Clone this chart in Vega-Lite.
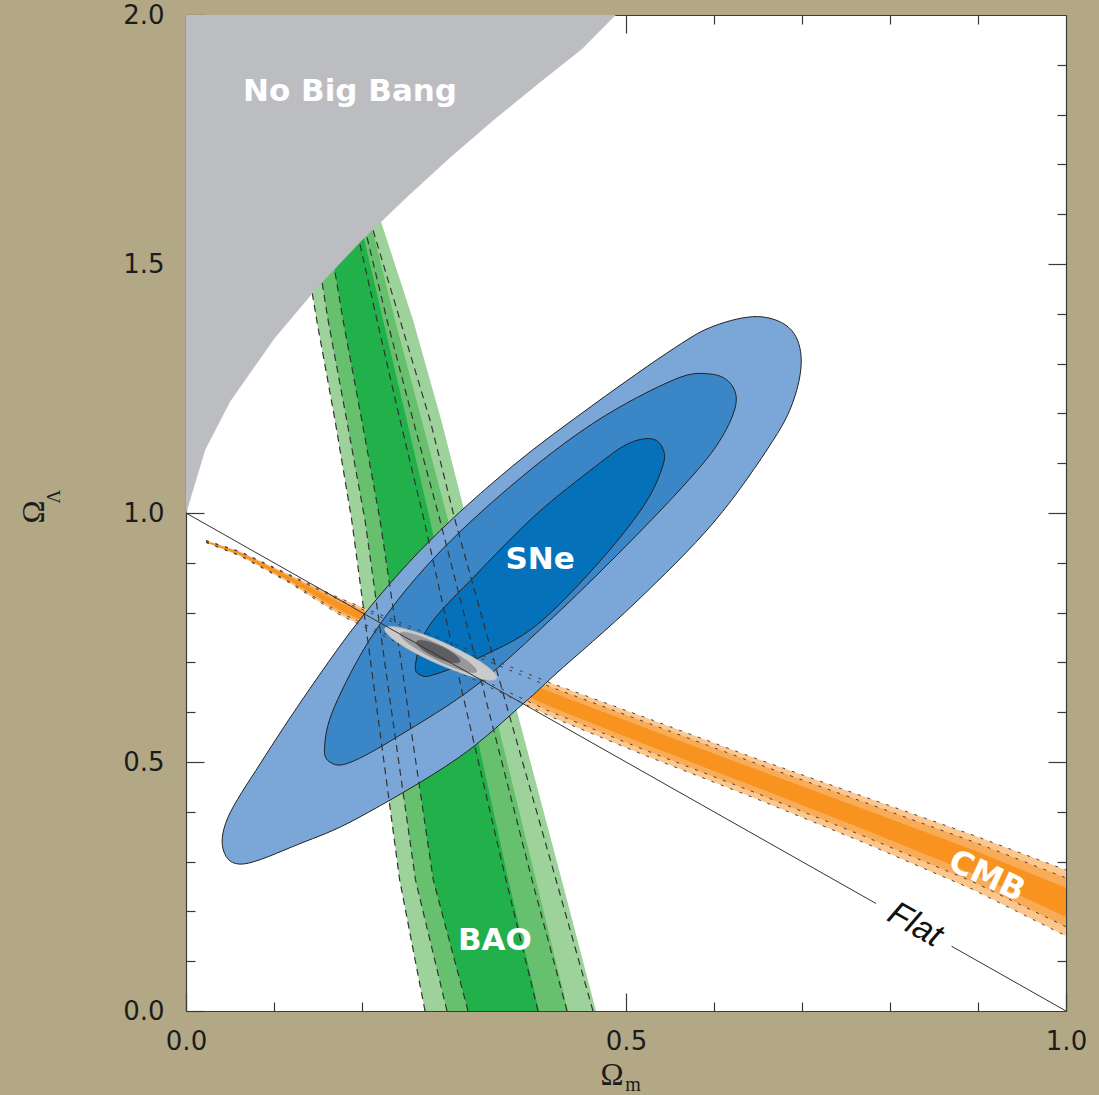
{
  "$schema": "https://vega.github.io/schema/vega-lite/v6.json",
  "width": 880,
  "height": 996,
  "autosize": {"type": "none"},
  "padding": {"left": 186, "top": 15, "right": 33, "bottom": 84},
  "background": "#b3a886",
  "config": {
    "view": {"fill": "white", "stroke": null},
    "axis": {
      "domainColor": "#3a3a3a",
      "domainWidth": 1.2,
      "tickColor": "#3a3a3a",
      "tickWidth": 1.2,
      "labelFont": "DejaVu Sans",
      "labelFontSize": 26,
      "labelColor": "#1c1c1c",
      "grid": false,
      "labelFlush": false,
      "labelOverlap": false,
      "zindex": 1
    }
  },
  "resolve": {"axis": {"x": "independent", "y": "independent"}},
  "datasets": {
    "bao": [
      {"ol": 1.6285, "l1": 0.1261, "l2": 0.1398, "l3": 0.1557, "r3": 0.1920, "r2": 0.2034, "r1": 0.2136, "d3": 0.1864, "d2": 0.1955, "d1": 0.2023},
      {"ol": 1.3876, "l1": 0.1485, "l2": 0.1614, "l3": 0.1784, "r3": 0.2239, "r2": 0.2375, "r1": 0.2580, "d3": 0.2170, "d2": 0.2284, "d1": 0.2432},
      {"ol": 1.1867, "l1": 0.1693, "l2": 0.1826, "l3": 0.1997, "r3": 0.2508, "r2": 0.2678, "r1": 0.2900, "d3": 0.2432, "d2": 0.2580, "d1": 0.2773},
      {"ol": 0.9859, "l1": 0.1883, "l2": 0.2034, "l3": 0.2205, "r3": 0.2773, "r2": 0.2977, "r1": 0.3190, "d3": 0.2705, "d2": 0.2886, "d1": 0.3057},
      {"ol": 0.6245, "l1": 0.2156, "l2": 0.2318, "l3": 0.2508, "r3": 0.3216, "r2": 0.3477, "r1": 0.3727, "d3": 0.3159, "d2": 0.3409, "d1": 0.3625},
      {"ol": 0.2631, "l1": 0.2428, "l2": 0.2608, "l3": 0.2810, "r3": 0.3664, "r2": 0.3977, "r1": 0.4270, "d3": 0.3636, "d2": 0.3932, "d1": 0.4205},
      {"ol": 0.0, "l1": 0.2716, "l2": 0.2966, "l3": 0.3205, "r3": 0.4011, "r2": 0.4341, "r1": 0.4659, "d3": 0.4000, "d2": 0.4330, "d1": 0.4625}
    ],
    "cmb": [
      {"om": 0.0227, "e0": 0.9448, "e1": 0.9443, "e2": 0.9437, "e3": 0.9419, "e4": 0.9413, "e5": 0.9408},
      {"om": 0.0614, "e0": 0.9228, "e1": 0.9217, "e2": 0.9203, "e3": 0.9164, "e4": 0.9150, "e5": 0.9138},
      {"om": 0.1182, "e0": 0.8758, "e1": 0.8738, "e2": 0.8713, "e3": 0.8640, "e4": 0.8615, "e5": 0.8591},
      {"om": 0.1750, "e0": 0.8286, "e1": 0.8246, "e2": 0.8196, "e3": 0.8048, "e4": 0.7998, "e5": 0.7951},
      {"om": 0.3000, "e0": 0.7400, "e1": 0.7338, "e2": 0.7261, "e3": 0.7034, "e4": 0.6957, "e5": 0.6886},
      {"om": 0.4136, "e0": 0.6592, "e1": 0.6511, "e2": 0.6410, "e3": 0.6113, "e4": 0.6012, "e5": 0.5918},
      {"om": 0.5216, "e0": 0.5896, "e1": 0.5804, "e2": 0.5690, "e3": 0.5354, "e4": 0.5239, "e5": 0.5133},
      {"om": 0.6460, "e0": 0.5080, "e1": 0.4984, "e2": 0.4863, "e3": 0.4510, "e4": 0.4390, "e5": 0.4277},
      {"om": 0.7700, "e0": 0.4307, "e1": 0.4196, "e2": 0.4058, "e3": 0.3651, "e4": 0.3513, "e5": 0.3384},
      {"om": 0.8940, "e0": 0.3534, "e1": 0.3403, "e2": 0.3239, "e3": 0.2759, "e4": 0.2595, "e5": 0.2442},
      {"om": 1.0, "e0": 0.2831, "e1": 0.2672, "e2": 0.2473, "e3": 0.1890, "e4": 0.1692, "e5": 0.1506}
    ],
    "sne": [
      {"g": "outer", "i": 1, "om": 0.6494, "ol": 1.3944},
      {"g": "outer", "i": 2, "om": 0.6852, "ol": 1.3721},
      {"g": "outer", "i": 3, "om": 0.6989, "ol": 1.3163},
      {"g": "outer", "i": 4, "om": 0.6920, "ol": 1.2349},
      {"g": "outer", "i": 5, "om": 0.6670, "ol": 1.1454},
      {"g": "outer", "i": 6, "om": 0.6000, "ol": 0.9819},
      {"g": "outer", "i": 7, "om": 0.5102, "ol": 0.8193},
      {"g": "outer", "i": 8, "om": 0.4205, "ol": 0.6773},
      {"g": "outer", "i": 9, "om": 0.3841, "ol": 0.6185},
      {"g": "outer", "i": 10, "om": 0.3080, "ol": 0.5066},
      {"g": "outer", "i": 11, "om": 0.1955, "ol": 0.3876},
      {"g": "outer", "i": 12, "om": 0.1284, "ol": 0.3353},
      {"g": "outer", "i": 13, "om": 0.0653, "ol": 0.2952},
      {"g": "outer", "i": 14, "om": 0.0428, "ol": 0.3213},
      {"g": "outer", "i": 15, "om": 0.0474, "ol": 0.3876},
      {"g": "outer", "i": 16, "om": 0.0852, "ol": 0.4990},
      {"g": "outer", "i": 17, "om": 0.1409, "ol": 0.6476},
      {"g": "outer", "i": 18, "om": 0.2023, "ol": 0.7962},
      {"g": "outer", "i": 19, "om": 0.2773, "ol": 0.9448},
      {"g": "outer", "i": 20, "om": 0.3705, "ol": 1.0934},
      {"g": "outer", "i": 21, "om": 0.4648, "ol": 1.2197},
      {"g": "outer", "i": 22, "om": 0.5551, "ol": 1.3313},
      {"g": "outer", "i": 23, "om": 0.6000, "ol": 1.3755},
      {"g": "middle", "i": 1, "om": 0.5955, "ol": 1.2791},
      {"g": "middle", "i": 2, "om": 0.6182, "ol": 1.2610},
      {"g": "middle", "i": 3, "om": 0.6250, "ol": 1.2197},
      {"g": "middle", "i": 4, "om": 0.6091, "ol": 1.1526},
      {"g": "middle", "i": 5, "om": 0.5773, "ol": 1.0783},
      {"g": "middle", "i": 6, "om": 0.5102, "ol": 0.9522},
      {"g": "middle", "i": 7, "om": 0.4205, "ol": 0.7962},
      {"g": "middle", "i": 8, "om": 0.3307, "ol": 0.6550},
      {"g": "middle", "i": 9, "om": 0.2406, "ol": 0.5510},
      {"g": "middle", "i": 10, "om": 0.1864, "ol": 0.4990},
      {"g": "middle", "i": 11, "om": 0.1642, "ol": 0.4990},
      {"g": "middle", "i": 12, "om": 0.1574, "ol": 0.5289},
      {"g": "middle", "i": 13, "om": 0.1686, "ol": 0.6104},
      {"g": "middle", "i": 14, "om": 0.2136, "ol": 0.7590},
      {"g": "middle", "i": 15, "om": 0.2807, "ol": 0.9076},
      {"g": "middle", "i": 16, "om": 0.3705, "ol": 1.0562},
      {"g": "middle", "i": 17, "om": 0.4648, "ol": 1.1827},
      {"g": "middle", "i": 18, "om": 0.5551, "ol": 1.2681},
      {"g": "inner", "i": 1, "om": 0.5282, "ol": 1.1492},
      {"g": "inner", "i": 2, "om": 0.5416, "ol": 1.1305},
      {"g": "inner", "i": 3, "om": 0.5416, "ol": 1.0934},
      {"g": "inner", "i": 4, "om": 0.5192, "ol": 1.0120},
      {"g": "inner", "i": 5, "om": 0.4652, "ol": 0.8928},
      {"g": "inner", "i": 6, "om": 0.3977, "ol": 0.7739},
      {"g": "inner", "i": 7, "om": 0.3394, "ol": 0.7149},
      {"g": "inner", "i": 8, "om": 0.2852, "ol": 0.6773},
      {"g": "inner", "i": 9, "om": 0.2675, "ol": 0.6737},
      {"g": "inner", "i": 10, "om": 0.2608, "ol": 0.6960},
      {"g": "inner", "i": 11, "om": 0.2765, "ol": 0.7739},
      {"g": "inner", "i": 12, "om": 0.3305, "ol": 0.8779},
      {"g": "inner", "i": 13, "om": 0.3977, "ol": 0.9968},
      {"g": "inner", "i": 14, "om": 0.4652, "ol": 1.0934},
      {"g": "inner", "i": 15, "om": 0.5011, "ol": 1.1380}
    ],
    "joint": [
      {"g": "c3", "i": 1, "om": 0.35318, "ol": 0.66807},
      {"g": "c3", "i": 2, "om": 0.34211, "ol": 0.66472},
      {"g": "c3", "i": 3, "om": 0.31695, "ol": 0.67570},
      {"g": "c3", "i": 4, "om": 0.28444, "ol": 0.69809},
      {"g": "c3", "i": 5, "om": 0.25332, "ol": 0.72590},
      {"g": "c3", "i": 6, "om": 0.23189, "ol": 0.75167},
      {"g": "c3", "i": 7, "om": 0.22591, "ol": 0.76847},
      {"g": "c3", "i": 8, "om": 0.23698, "ol": 0.77183},
      {"g": "c3", "i": 9, "om": 0.26215, "ol": 0.76084},
      {"g": "c3", "i": 10, "om": 0.29465, "ol": 0.73845},
      {"g": "c3", "i": 11, "om": 0.32578, "ol": 0.71064},
      {"g": "c3", "i": 12, "om": 0.34720, "ol": 0.68488},
      {"g": "c2", "i": 1, "om": 0.33028, "ol": 0.68133},
      {"g": "c2", "i": 2, "om": 0.32253, "ol": 0.67976},
      {"g": "c2", "i": 3, "om": 0.30519, "ol": 0.68894},
      {"g": "c2", "i": 4, "om": 0.28289, "ol": 0.70640},
      {"g": "c2", "i": 5, "om": 0.26161, "ol": 0.72749},
      {"g": "c2", "i": 6, "om": 0.24706, "ol": 0.74655},
      {"g": "c2", "i": 7, "om": 0.24313, "ol": 0.75843},
      {"g": "c2", "i": 8, "om": 0.25088, "ol": 0.76000},
      {"g": "c2", "i": 9, "om": 0.26822, "ol": 0.75082},
      {"g": "c2", "i": 10, "om": 0.29052, "ol": 0.73333},
      {"g": "c2", "i": 11, "om": 0.31180, "ol": 0.71227},
      {"g": "c2", "i": 12, "om": 0.32635, "ol": 0.69321},
      {"g": "c1", "i": 1, "om": 0.31131, "ol": 0.70141},
      {"g": "c1", "i": 2, "om": 0.30658, "ol": 0.69863},
      {"g": "c1", "i": 3, "om": 0.29653, "ol": 0.70197},
      {"g": "c1", "i": 4, "om": 0.28384, "ol": 0.71054},
      {"g": "c1", "i": 5, "om": 0.27193, "ol": 0.72205},
      {"g": "c1", "i": 6, "om": 0.26397, "ol": 0.73341},
      {"g": "c1", "i": 7, "om": 0.26210, "ol": 0.74157},
      {"g": "c1", "i": 8, "om": 0.26683, "ol": 0.74434},
      {"g": "c1", "i": 9, "om": 0.27688, "ol": 0.74100},
      {"g": "c1", "i": 10, "om": 0.28957, "ol": 0.73243},
      {"g": "c1", "i": 11, "om": 0.30148, "ol": 0.72092},
      {"g": "c1", "i": 12, "om": 0.30944, "ol": 0.70956}
    ],
    "nobigbang": [
      {"i": 0, "om": 0.0, "ol": 2.0},
      {"i": 1, "om": 0.0, "ol": 1.0},
      {"i": 2, "om": 0.0216, "ol": 1.127},
      {"i": 3, "om": 0.05, "ol": 1.224},
      {"i": 4, "om": 0.1, "ol": 1.350},
      {"i": 5, "om": 0.15, "ol": 1.455},
      {"i": 6, "om": 0.2, "ol": 1.548},
      {"i": 7, "om": 0.25, "ol": 1.633},
      {"i": 8, "om": 0.3, "ol": 1.714},
      {"i": 9, "om": 0.35, "ol": 1.790},
      {"i": 10, "om": 0.4, "ol": 1.862},
      {"i": 11, "om": 0.45, "ol": 1.932},
      {"i": 12, "om": 0.488, "ol": 2.0}
    ],
    "flat": [
      {"om": 0.0, "ol": 1.0, "om2": 0.784, "ol2": 0.216},
      {"om": 0.870, "ol": 0.130, "om2": 1.0, "ol2": 0.0}
    ],
    "notes": [
      {"kind": "region", "t": "No Big Bang", "om": 0.1864, "ol": 1.8454},
      {"kind": "region", "t": "SNe", "om": 0.4023, "ol": 0.9056},
      {"kind": "region", "t": "BAO", "om": 0.3511, "ol": 0.1406},
      {"kind": "cmb", "t": "CMB", "om": 0.9102, "ol": 0.2711},
      {"kind": "flat", "t": "Flat", "om": 0.8284, "ol": 0.1727},
      {"kind": "xsym", "t": "Ω", "om": 0.4841, "ol": -0.1305},
      {"kind": "xsub", "t": "m", "om": 0.5080, "ol": -0.1486},
      {"kind": "ysym", "t": "Ω", "om": -0.1716, "ol": 1.002},
      {"kind": "ysub", "t": "Λ", "om": -0.150, "ol": 1.033}
    ]
  },
  "layer": [
    {
      "data": {"name": "bao"},
      "mark": {"type": "area", "orient": "horizontal", "fill": "#9dd39a", "clip": true},
      "encoding": {
        "y": {"field": "ol", "type": "quantitative",
              "scale": {"domain": [0, 2], "nice": false, "zero": false},
              "axis": {"orient": "left", "values": [0, 0.5, 1, 1.5, 2], "format": ".1f", "tickSize": -18, "labelPadding": 40, "title": null}},
        "x": {"field": "l1", "type": "quantitative",
              "scale": {"domain": [0, 1], "nice": false, "zero": false},
              "axis": {"orient": "bottom", "values": [0, 0.5, 1], "format": ".1f", "tickSize": -18, "labelPadding": 35, "title": null}},
        "x2": {"field": "r1"}
      }
    },
    {
      "data": {"name": "bao"},
      "mark": {"type": "area", "orient": "horizontal", "fill": "#66c06d", "clip": true},
      "encoding": {
        "y": {"field": "ol", "type": "quantitative",
              "axis": {"orient": "left", "values": [0.1, 0.2, 0.3, 0.4, 0.6, 0.7, 0.8, 0.9, 1.1, 1.2, 1.3, 1.4, 1.6, 1.7, 1.8, 1.9], "tickSize": -9, "labels": false, "domain": false, "title": null}},
        "x": {"field": "l2", "type": "quantitative",
              "axis": {"orient": "bottom", "values": [0.1, 0.2, 0.3, 0.4, 0.6, 0.7, 0.8, 0.9], "tickSize": -9, "labels": false, "domain": false, "title": null}},
        "x2": {"field": "r2"}
      }
    },
    {
      "data": {"name": "bao"},
      "mark": {"type": "area", "orient": "horizontal", "fill": "#22b04b", "clip": true},
      "encoding": {
        "y": {"field": "ol", "type": "quantitative",
              "axis": {"orient": "right", "values": [0.5, 1, 1.5], "tickSize": -18, "labels": false, "title": null}},
        "x": {"field": "l3", "type": "quantitative",
              "axis": {"orient": "top", "values": [0.5], "tickSize": -18, "labels": false, "title": null}},
        "x2": {"field": "r3"}
      }
    },
    {
      "data": {"name": "cmb"},
      "mark": {"type": "area", "fill": "#fdc68c", "clip": true},
      "encoding": {
        "x": {"field": "om", "type": "quantitative",
              "axis": {"orient": "top", "values": [0.1, 0.2, 0.3, 0.4, 0.6, 0.7, 0.8, 0.9], "tickSize": -9, "labels": false, "domain": false, "title": null}},
        "y": {"field": "e0", "type": "quantitative",
              "axis": {"orient": "right", "values": [0.1, 0.2, 0.3, 0.4, 0.6, 0.7, 0.8, 0.9, 1.1, 1.2, 1.3, 1.4, 1.6, 1.7, 1.8, 1.9], "tickSize": -9, "labels": false, "domain": false, "title": null}},
        "y2": {"field": "e5"}
      }
    },
    {
      "data": {"name": "cmb"},
      "mark": {"type": "area", "fill": "#f9ac58", "clip": true},
      "encoding": {
        "x": {"field": "om", "type": "quantitative", "axis": null},
        "y": {"field": "e1", "type": "quantitative", "axis": null},
        "y2": {"field": "e4"}
      }
    },
    {
      "data": {"name": "cmb"},
      "mark": {"type": "area", "fill": "#f7931e", "clip": true},
      "encoding": {
        "x": {"field": "om", "type": "quantitative", "axis": null},
        "y": {"field": "e2", "type": "quantitative", "axis": null},
        "y2": {"field": "e3"}
      }
    },
    {
      "data": {"name": "sne"},
      "transform": [{"filter": {"field": "g", "equal": "outer"}}],
      "mark": {"type": "line", "fill": "#7ba6d8", "stroke": "#222222", "strokeWidth": 1, "interpolate": "cardinal-closed", "clip": true},
      "encoding": {
        "x": {"field": "om", "type": "quantitative", "axis": null},
        "y": {"field": "ol", "type": "quantitative", "axis": null},
        "order": {"field": "i", "type": "quantitative"}
      }
    },
    {
      "data": {"name": "sne"},
      "transform": [{"filter": {"field": "g", "equal": "middle"}}],
      "mark": {"type": "line", "fill": "#3b86c7", "stroke": "#222222", "strokeWidth": 1, "interpolate": "cardinal-closed", "clip": true},
      "encoding": {
        "x": {"field": "om", "type": "quantitative", "axis": null},
        "y": {"field": "ol", "type": "quantitative", "axis": null},
        "order": {"field": "i", "type": "quantitative"}
      }
    },
    {
      "data": {"name": "sne"},
      "transform": [{"filter": {"field": "g", "equal": "inner"}}],
      "mark": {"type": "line", "fill": "#0571ba", "stroke": "#222222", "strokeWidth": 1, "interpolate": "cardinal-closed", "clip": true},
      "encoding": {
        "x": {"field": "om", "type": "quantitative", "axis": null},
        "y": {"field": "ol", "type": "quantitative", "axis": null},
        "order": {"field": "i", "type": "quantitative"}
      }
    },
    {
      "data": {"name": "bao"},
      "transform": [{"fold": ["l1", "l2", "l3", "d3", "d2", "d1"], "as": ["edge", "om"]}],
      "mark": {"type": "line", "stroke": "#333333", "strokeWidth": 1.2, "strokeDash": [7, 5], "clip": true},
      "encoding": {
        "x": {"field": "om", "type": "quantitative", "axis": null},
        "y": {"field": "ol", "type": "quantitative", "axis": null},
        "detail": {"field": "edge"},
        "order": {"field": "ol", "type": "quantitative"}
      }
    },
    {
      "data": {"name": "cmb"},
      "transform": [{"fold": ["e0", "e1", "e4", "e5"], "as": ["edge", "ol"]}],
      "mark": {"type": "line", "stroke": "#333333", "strokeWidth": 0.9, "strokeDash": [3, 7], "clip": true},
      "encoding": {
        "x": {"field": "om", "type": "quantitative", "axis": null},
        "y": {"field": "ol", "type": "quantitative", "axis": null},
        "detail": {"field": "edge"}
      }
    },
    {
      "data": {"name": "nobigbang"},
      "mark": {"type": "line", "fill": "#bcbdc1", "stroke": "#bcbdc1", "strokeWidth": 0.5, "interpolate": "linear-closed", "clip": true},
      "encoding": {
        "x": {"field": "om", "type": "quantitative", "axis": null},
        "y": {"field": "ol", "type": "quantitative", "axis": null},
        "order": {"field": "i", "type": "quantitative"}
      }
    },
    {
      "data": {"name": "joint"},
      "transform": [{"filter": {"field": "g", "equal": "c3"}}],
      "mark": {"type": "line", "fill": "#cacacb", "stroke": "#bdbdbe", "strokeWidth": 0.5, "interpolate": "cardinal-closed"},
      "encoding": {
        "x": {"field": "om", "type": "quantitative", "axis": null},
        "y": {"field": "ol", "type": "quantitative", "axis": null},
        "order": {"field": "i", "type": "quantitative"}
      }
    },
    {
      "data": {"name": "joint"},
      "transform": [{"filter": {"field": "g", "equal": "c2"}}],
      "mark": {"type": "line", "fill": "#98989a", "stroke": "#98989a", "strokeWidth": 0.5, "interpolate": "cardinal-closed"},
      "encoding": {
        "x": {"field": "om", "type": "quantitative", "axis": null},
        "y": {"field": "ol", "type": "quantitative", "axis": null},
        "order": {"field": "i", "type": "quantitative"}
      }
    },
    {
      "data": {"name": "joint"},
      "transform": [{"filter": {"field": "g", "equal": "c1"}}],
      "mark": {"type": "line", "fill": "#5e5e60", "stroke": "#5e5e60", "strokeWidth": 0.5, "interpolate": "cardinal-closed"},
      "encoding": {
        "x": {"field": "om", "type": "quantitative", "axis": null},
        "y": {"field": "ol", "type": "quantitative", "axis": null},
        "order": {"field": "i", "type": "quantitative"}
      }
    },
    {
      "data": {"name": "flat"},
      "mark": {"type": "rule", "color": "#333333", "strokeWidth": 1},
      "encoding": {
        "x": {"field": "om", "type": "quantitative", "axis": null},
        "y": {"field": "ol", "type": "quantitative", "axis": null},
        "x2": {"field": "om2"},
        "y2": {"field": "ol2"}
      }
    },
    {
      "data": {"name": "notes"},
      "transform": [{"filter": {"field": "kind", "equal": "region"}}],
      "mark": {"type": "text", "font": "DejaVu Sans", "fontWeight": "bold", "fontSize": 31, "color": "white", "align": "center", "baseline": "middle"},
      "encoding": {
        "x": {"field": "om", "type": "quantitative", "axis": null},
        "y": {"field": "ol", "type": "quantitative", "axis": null},
        "text": {"field": "t"}
      }
    },
    {
      "data": {"name": "notes"},
      "transform": [{"filter": {"field": "kind", "equal": "cmb"}}],
      "mark": {"type": "text", "font": "DejaVu Sans", "fontWeight": "bold", "fontSize": 32, "color": "white", "align": "center", "baseline": "middle", "angle": 25},
      "encoding": {
        "x": {"field": "om", "type": "quantitative", "axis": null},
        "y": {"field": "ol", "type": "quantitative", "axis": null},
        "text": {"field": "t"}
      }
    },
    {
      "data": {"name": "notes"},
      "transform": [{"filter": {"field": "kind", "equal": "flat"}}],
      "mark": {"type": "text", "font": "Liberation Sans", "fontStyle": "italic", "fontSize": 34, "color": "#111111", "align": "center", "baseline": "middle", "angle": 29.5},
      "encoding": {
        "x": {"field": "om", "type": "quantitative", "axis": null},
        "y": {"field": "ol", "type": "quantitative", "axis": null},
        "text": {"field": "t"}
      }
    },
    {
      "data": {"name": "notes"},
      "transform": [{"filter": {"field": "kind", "equal": "xsym"}}],
      "mark": {"type": "text", "font": "Liberation Serif", "fontSize": 31, "color": "#1c1c1c", "align": "center", "baseline": "middle"},
      "encoding": {
        "x": {"field": "om", "type": "quantitative", "axis": null},
        "y": {"field": "ol", "type": "quantitative", "axis": null},
        "text": {"field": "t"}
      }
    },
    {
      "data": {"name": "notes"},
      "transform": [{"filter": {"field": "kind", "equal": "xsub"}}],
      "mark": {"type": "text", "font": "Liberation Serif", "fontSize": 20, "color": "#1c1c1c", "align": "center", "baseline": "middle"},
      "encoding": {
        "x": {"field": "om", "type": "quantitative", "axis": null},
        "y": {"field": "ol", "type": "quantitative", "axis": null},
        "text": {"field": "t"}
      }
    },
    {
      "data": {"name": "notes"},
      "transform": [{"filter": {"field": "kind", "equal": "ysym"}}],
      "mark": {"type": "text", "font": "Liberation Serif", "fontSize": 31, "color": "#1c1c1c", "align": "center", "baseline": "middle", "angle": 270},
      "encoding": {
        "x": {"field": "om", "type": "quantitative", "axis": null},
        "y": {"field": "ol", "type": "quantitative", "axis": null},
        "text": {"field": "t"}
      }
    },
    {
      "data": {"name": "notes"},
      "transform": [{"filter": {"field": "kind", "equal": "ysub"}}],
      "mark": {"type": "text", "font": "Liberation Serif", "fontSize": 19, "color": "#1c1c1c", "align": "center", "baseline": "middle", "angle": 270},
      "encoding": {
        "x": {"field": "om", "type": "quantitative", "axis": null},
        "y": {"field": "ol", "type": "quantitative", "axis": null},
        "text": {"field": "t"}
      }
    }
  ]
}
